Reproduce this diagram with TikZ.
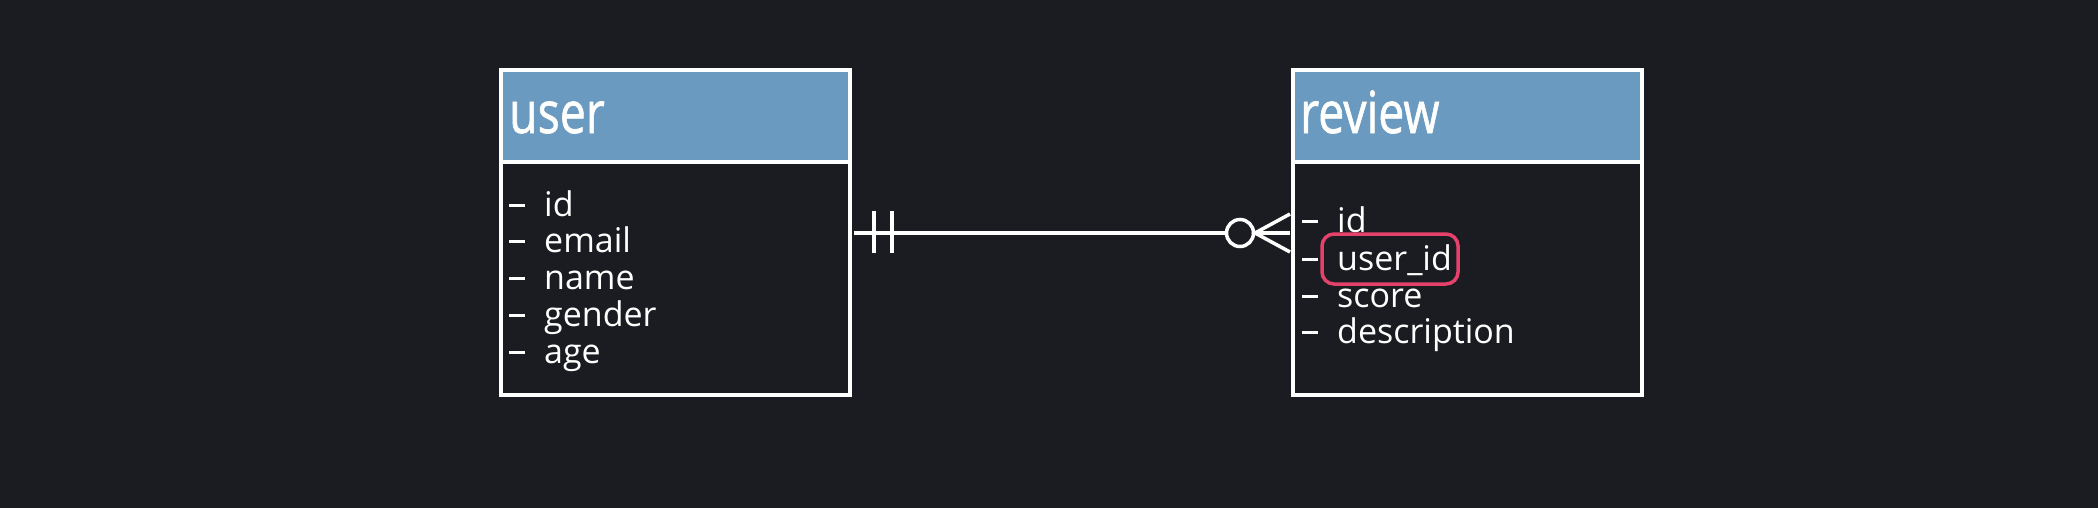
\documentclass[tikz,border=0pt]{standalone}
\usepackage{fontspec}
\setmainfont{Open Sans}
\newfontfamily\hdrfont[FakeBold=1.2]{Open Sans}
\definecolor{bg}{HTML}{1A1C21}
\definecolor{hdr}{HTML}{6A9ABF}
\definecolor{fkred}{HTML}{E5426B}
\newcommand\dsh{\makebox[35pt][l]{\rule[9.5pt]{16pt}{3pt}}}
\newcommand\hdrtxt[1]{\scalebox{0.8}[1]{#1}}
\begin{document}
\begin{tikzpicture}[x=1pt,y=-1pt,
  entity/.style={draw=white, line width=3.5pt, minimum width=349pt, minimum height=325pt, inner sep=0pt},
  hdrfill/.style={fill=hdr},
  sepline/.style={draw=white, line width=3.5pt},
  title/.style={text=white, inner sep=0pt, anchor=base west, font=\fontsize{58}{60}\hdrfont},
  field/.style={text=white, inner sep=0pt, anchor=base west, font=\fontsize{34}{37}\selectfont},
  conn/.style={draw=white, line width=3.5pt},
  fkbox/.style={draw=fkred, line width=3.5pt, rounded corners=12pt, minimum width=136pt, minimum height=50pt, inner sep=0pt}
]
\useasboundingbox (0,0) rectangle (2098,508);
\fill[bg] (0,0) rectangle (2098,508);

% header fills
\fill[hdrfill] (501,70) rectangle (850,162);
\fill[hdrfill] (1294,70) rectangle (1641,162);

% entities
\node[entity] (user) at (675.5,232.5) {};
\node[entity] (review) at (1467.5,232.5) {};
\draw[sepline] (501,162) -- (850,162);
\draw[sepline] (1294,162) -- (1641,162);

% titles
\node[title] (userT) at (509,133) {\hdrtxt{user}};
\node[title] (reviewT) at (1300,133) {\hdrtxt{review}};

% user fields
\node[field] (u1) at (509,216) {\dsh id};
\node[field] (u2) at (509,252) {\dsh email};
\node[field] (u3) at (509,289) {\dsh name};
\node[field] (u4) at (509,326) {\dsh gender};
\node[field] (u5) at (509,363) {\dsh age};

% review fields
\node[field] (r1) at (1302,232) {\dsh id};
\node[field] (r2) at (1302,270) {\dsh user\_id};
\node[field] (r3) at (1302,307) {\dsh score};
\node[field] (r4) at (1302,343) {\dsh description};

% foreign key highlight
\node[fkbox] (fk) at (1390,259) {};

% relationship
\node[circle, draw=white, line width=3.5pt, fill=bg, minimum size=27pt, inner sep=0pt] (opt) at (1240,233) {};
\coordinate (ls) at (854,233);
\coordinate (le) at (1290,233);
\coordinate (b1t) at (874,211);
\coordinate (b1b) at (874,253);
\coordinate (b2t) at (892,211);
\coordinate (b2b) at (892,253);
\coordinate (cft) at (1290,214);
\coordinate (cfb) at (1290,252);
\coordinate (cfp) at (1255,233);
\draw[conn] (ls) -- (opt.west);
\draw[conn] (opt.east) -- (le);
\draw[conn] (b1t) -- (b1b);
\draw[conn] (b2t) -- (b2b);
\draw[conn] (cft) -- (cfp) -- (cfb);
\end{tikzpicture}
\end{document}
